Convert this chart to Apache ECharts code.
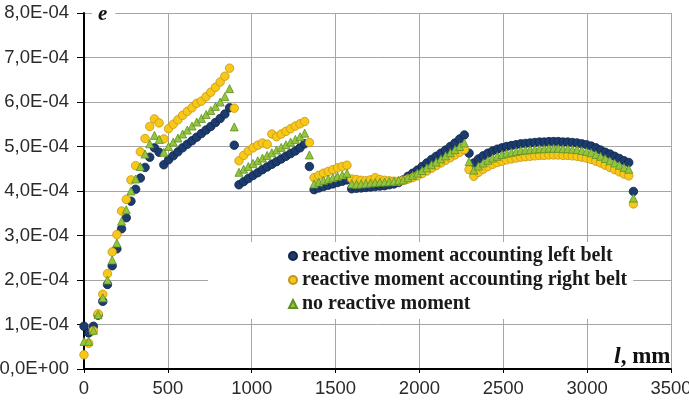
<!DOCTYPE html>
<html>
<head>
<meta charset="utf-8">
<script src="https://cdn.jsdelivr.net/npm/echarts@6/dist/echarts.min.js"></script>
<style>
  html, body { margin: 0; padding: 0; background: #fff; }
  #chart { width: 689px; height: 404px; }
</style>
</head>
<body>
<div id="chart"></div>
<script>
// Belt length coordinate, mm
const lengthMm = [0,28,56,84,112,140,168,196,224,252,280,308,336,364,392,420,448,476,
  504,532,560,588,616,644,672,700,728,756,784,812,840,868,896,
  924,952,980,1008,1036,1064,1092,1120,1148,1176,1204,1232,1260,1288,1316,1344,
  1372,1400,1428,1456,1484,1512,1540,1568,1596,1624,1652,1680,1708,1736,1764,1792,1820,1848,1876,
  1904,1932,1960,1988,2016,2044,2072,2100,2128,2156,2184,2212,2240,2268,2296,
  2324,2352,2380,2408,2436,2464,2492,2520,2548,2576,2604,2632,2660,2688,2716,2744,2772,2800,
  2828,2856,2884,2912,2940,2968,2996,3024,3052,3080,3108,3136,3164,3192,3220,3248,3276];

// Strain e, in units of 1e-4
const leftBelt = [0.96,0.81,0.96,1.21,1.52,1.90,2.32,2.70,3.15,3.40,3.77,4.04,4.29,4.53,4.76,4.97,4.87,4.59,
  4.70,4.79,4.88,4.97,5.05,5.13,5.21,5.29,5.37,5.45,5.54,5.63,5.73,5.87,5.03,
  4.14,4.21,4.28,4.35,4.41,4.48,4.54,4.60,4.66,4.72,4.78,4.84,4.90,4.97,5.06,4.55,
  4.03,4.07,4.10,4.13,4.16,4.19,4.22,4.25,4.05,4.06,4.07,4.08,4.09,4.10,4.11,4.12,4.14,4.16,4.19,
  4.25,4.33,4.40,4.47,4.55,4.63,4.71,4.78,4.85,4.92,5.00,5.08,5.17,5.26,4.85,
  4.63,4.72,4.79,4.85,4.90,4.94,4.97,5.00,5.02,5.04,5.06,5.07,5.08,5.09,5.10,5.10,5.11,5.11,
  5.11,5.10,5.10,5.09,5.08,5.06,5.04,5.01,4.97,4.92,4.87,4.83,4.78,4.73,4.68,4.64,3.99];

const rightBelt = [0.32,0.58,0.86,1.24,1.68,2.14,2.63,3.02,3.55,3.81,4.25,4.57,4.88,5.18,5.45,5.62,5.53,5.17,
  5.40,5.50,5.60,5.70,5.79,5.87,5.97,6.02,6.12,6.22,6.33,6.45,6.58,6.76,5.86,
  4.68,4.80,4.90,4.97,5.03,5.08,5.05,5.28,5.22,5.28,5.34,5.40,5.46,5.51,5.56,5.09,
  4.30,4.35,4.40,4.44,4.48,4.52,4.55,4.58,4.27,4.26,4.24,4.23,4.25,4.30,4.26,4.24,4.23,4.22,4.22,
  4.24,4.27,4.30,4.34,4.39,4.45,4.51,4.57,4.63,4.69,4.75,4.81,4.87,4.93,4.48,
  4.33,4.42,4.49,4.55,4.60,4.64,4.67,4.70,4.72,4.74,4.76,4.77,4.78,4.79,4.80,4.80,4.81,4.81,
  4.81,4.80,4.80,4.79,4.78,4.76,4.74,4.71,4.67,4.63,4.58,4.53,4.48,4.43,4.38,4.34,3.71];

const noMoment = [0.62,0.62,0.87,1.22,1.60,2.00,2.45,2.83,3.32,3.58,4.00,4.27,4.55,4.83,5.06,5.25,5.16,4.87,
  5.00,5.10,5.19,5.28,5.37,5.46,5.55,5.63,5.72,5.81,5.90,6.00,6.12,6.30,5.44,
  4.42,4.49,4.55,4.62,4.68,4.74,4.80,4.86,4.92,4.98,5.04,5.10,5.16,5.22,5.30,4.81,
  4.16,4.20,4.24,4.27,4.30,4.33,4.36,4.40,4.16,4.15,4.16,4.17,4.18,4.19,4.20,4.20,4.21,4.22,4.24,
  4.25,4.30,4.35,4.40,4.46,4.52,4.59,4.65,4.72,4.79,4.86,4.93,5.00,5.08,4.66,
  4.47,4.56,4.63,4.69,4.74,4.78,4.82,4.85,4.87,4.89,4.91,4.92,4.93,4.94,4.95,4.95,4.96,4.96,
  4.96,4.95,4.95,4.94,4.93,4.91,4.89,4.86,4.82,4.78,4.73,4.68,4.63,4.58,4.53,4.49,3.84];

const seriesNames = [
  'reactive moment accounting left belt',
  'reactive moment accounting right belt',
  'no reactive moment'
];

const SCALE = 1e-4;
const toPairs = vals => lengthMm.map((l, i) => [l, vals[i] * SCALE]);

// "8,0E-04" style tick labels
function sciLabel(v) {
  if (Math.abs(v) < 1e-12) return '0,0E+00';
  const [m, e] = v.toExponential(1).split('e');
  const exp = parseInt(e, 10);
  return m.replace('.', ',') + 'E' + (exp < 0 ? '-' : '+') + String(Math.abs(exp)).padStart(2, '0');
}

const serifFont = '"Liberation Serif", "Times New Roman", serif';
const sansFont = '"Liberation Sans", Arial, sans-serif';

const chart = echarts.init(document.getElementById('chart'), null, { renderer: 'canvas' });
chart.setOption({
  animation: false,
  backgroundColor: '#fff',
  title: [
    {
      text: '{i|e}',
      left: 92, top: 2,
      padding: [2, 8, 2, 6],
      backgroundColor: '#fff',
      textStyle: { rich: { i: { fontFamily: serifFont, fontStyle: 'italic', fontWeight: 'bold', fontSize: 21, color: '#111' } } }
    },
    {
      text: '{i|l}{n|, mm}',
      left: 614, top: 345,
      padding: 0,
      textStyle: { rich: {
        i: { fontFamily: serifFont, fontStyle: 'italic', fontWeight: 'bold', fontSize: 24, color: '#111' },
        n: { fontFamily: serifFont, fontSize: 23, color: '#111' }
      } }
    }
  ],
  grid: { left: 84, right: 18, top: 13, bottom: 35, containLabel: false, outerBoundsMode: 'none' },
  xAxis: {
    type: 'value', min: 0, max: 3500, interval: 500,
    axisLine: { show: true, onZero: false, lineStyle: { color: '#000', width: 2 } },
    axisTick: { show: true, length: 4, lineStyle: { color: '#000', width: 1 } },
    axisLabel: { color: '#2a2a2a', fontSize: 18.5, fontFamily: sansFont, margin: 10, formatter: v => String(v) },
    splitLine: { show: true, lineStyle: { color: '#a6a6a6', width: 1 } }
  },
  yAxis: {
    type: 'value', min: 0, max: 8e-4, interval: 1e-4,
    axisLine: { show: true, onZero: false, lineStyle: { color: '#000', width: 2 } },
    axisTick: { show: true, length: 7, lineStyle: { color: '#000', width: 1 } },
    axisLabel: { color: '#2a2a2a', fontSize: 18.5, fontFamily: sansFont, margin: 15, formatter: sciLabel },
    splitLine: { show: true, lineStyle: { color: '#a6a6a6', width: 1 } }
  },
  legend: {
    orient: 'vertical',
    left: 208, top: 242,
    padding: [4, 6, 5, 80],
    backgroundColor: '#fff',
    itemWidth: 8, itemHeight: 8, itemGap: 4,
    textStyle: { fontFamily: serifFont, fontSize: 20, fontWeight: 'bold', color: '#1a1a1a' },
    data: seriesNames
  },
  series: [
    {
      name: seriesNames[0], type: 'scatter', symbol: 'circle', symbolSize: 8.5,
      itemStyle: { color: '#1c3c70', borderColor: '#0f2448', borderWidth: 0.8, opacity: 1 },
      data: toPairs(leftBelt), z: 2
    },
    {
      name: seriesNames[1], type: 'scatter', symbol: 'circle', symbolSize: 8.5,
      itemStyle: { color: '#f7c816', borderColor: '#c4951a', borderWidth: 0.8, opacity: 1 },
      data: toPairs(rightBelt), z: 3
    },
    {
      name: seriesNames[2], type: 'scatter', symbol: 'triangle', symbolSize: 8,
      itemStyle: { color: '#93c63b', borderColor: '#5f8f25', borderWidth: 0.8, opacity: 1 },
      data: toPairs(noMoment), z: 4
    }
  ]
});
</script>
</body>
</html>
